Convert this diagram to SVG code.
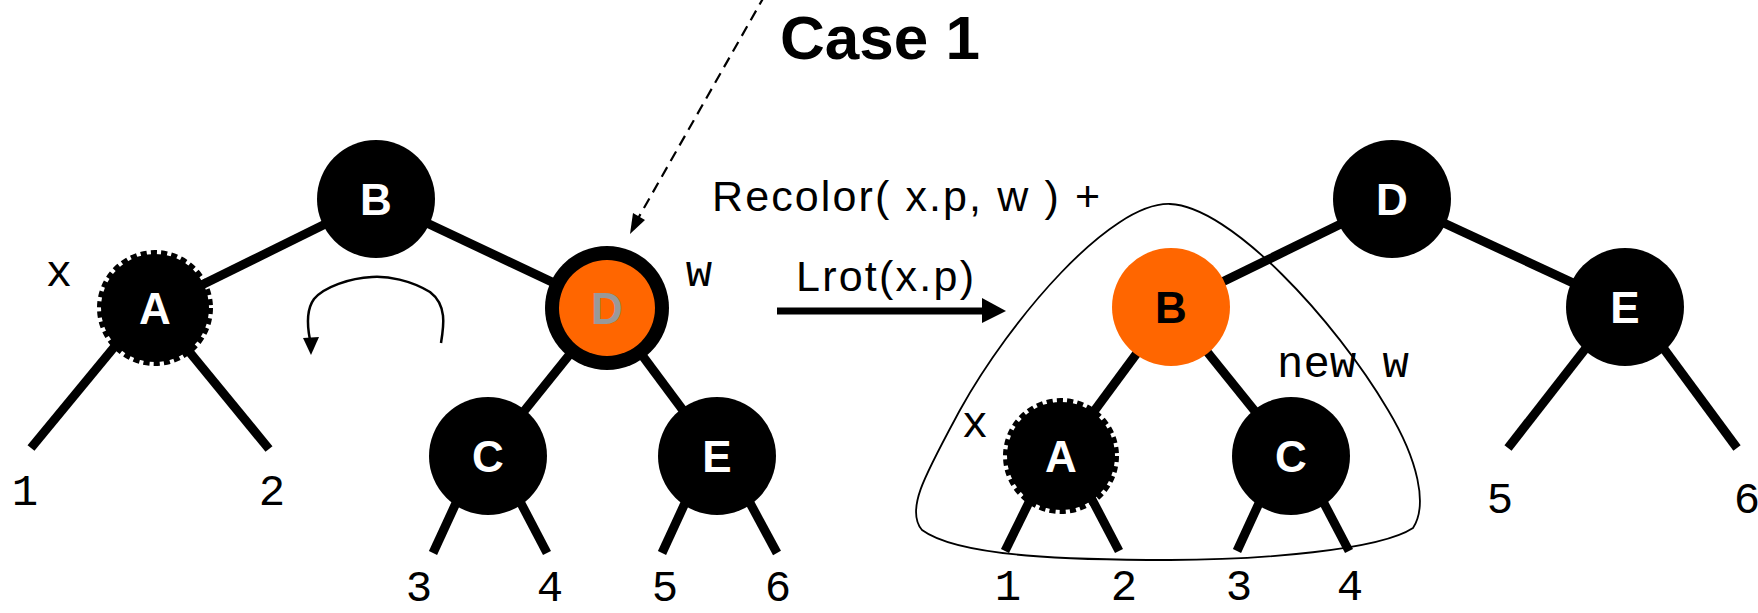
<svg xmlns="http://www.w3.org/2000/svg" width="1758" height="613" viewBox="0 0 1758 613">
<style>
.edge{stroke:#000;stroke-width:9;fill:none}
.blk{fill:#000}
.dash{fill:#000;stroke:#000;stroke-width:8;stroke-dasharray:6 4}
.org{fill:#FF6600}
.lbl{font-family:"Liberation Sans",Arial,sans-serif;font-weight:bold;font-size:44px;text-anchor:middle;fill:#fff}
.mono{font-family:"Liberation Mono","Courier New",monospace;font-size:44px;fill:#000}
.mid{text-anchor:middle}
.sans{font-family:"Liberation Sans",Arial,sans-serif;font-size:43px;fill:#000}
</style>
<rect width="1758" height="613" fill="#fff"/>
<g id="connectors">
  <!-- left tree -->
  <line class="edge" x1="376" y1="199" x2="155" y2="308"/>
  <line class="edge" x1="376" y1="199" x2="607" y2="308"/>
  <line class="edge" x1="125" y1="334" x2="31" y2="448"/>
  <line class="edge" x1="178" y1="338" x2="269" y2="449"/>
  <line class="edge" x1="607" y1="308" x2="488" y2="456"/>
  <line class="edge" x1="607" y1="308" x2="717" y2="456"/>
  <line class="edge" x1="462" y1="490" x2="433" y2="553"/>
  <line class="edge" x1="514" y1="490" x2="547" y2="553"/>
  <line class="edge" x1="691" y1="490" x2="662" y2="553"/>
  <line class="edge" x1="743" y1="490" x2="777" y2="553"/>
  <!-- right tree -->
  <line class="edge" x1="1392" y1="199" x2="1171" y2="307"/>
  <line class="edge" x1="1392" y1="199" x2="1625" y2="307"/>
  <line class="edge" x1="1171" y1="307" x2="1061" y2="456"/>
  <line class="edge" x1="1171" y1="307" x2="1291" y2="456"/>
  <line class="edge" x1="1600" y1="330" x2="1508" y2="448"/>
  <line class="edge" x1="1650" y1="330" x2="1737" y2="448"/>
  <line class="edge" x1="1036" y1="488" x2="1005" y2="551"/>
  <line class="edge" x1="1086" y1="488" x2="1119" y2="551"/>
  <line class="edge" x1="1266" y1="488" x2="1237" y2="551"/>
  <line class="edge" x1="1316" y1="488" x2="1349" y2="551"/>
  <!-- rotation arrow -->
  <path d="M441,343 C444,325 447,305 430,292 C410,280 388,276 372,277 C350,278 324,287 314,299 C306,310 307,325 310,340" fill="none" stroke="#000" stroke-width="2.5"/>
  <polygon points="311,355 303,338 319,337" fill="#000"/>
  <!-- dashed pointer -->
  <line x1="765" y1="-5" x2="636" y2="222" stroke="#000" stroke-width="2.2" stroke-dasharray="11 7"/>
  <polygon points="630,234 645,220 633,213" fill="#000"/>
  <!-- transform arrow -->
  <line x1="777" y1="311" x2="986" y2="311" stroke="#000" stroke-width="7"/>
  <polygon points="982,298 1006,311 982,323" fill="#000"/>
  <!-- subtree outline -->
  <path d="M1170,204 C1110,202 1010,320 960,410 C925,475 905,510 922,530 C960,558 1080,560 1170,560 C1260,560 1380,550 1413,528 C1428,505 1418,460 1388,410 C1335,320 1230,206 1170,204 Z" fill="none" stroke="#000" stroke-width="1.8"/>
</g>
<g id="nodeL_B"><circle class="blk" cx="376" cy="199" r="59"/><text class="lbl" x="376" y="215">B</text></g>
<g id="nodeL_A"><circle class="dash" cx="155" cy="308" r="54"/><text class="lbl" x="155" y="324">A</text></g>
<g id="nodeL_D"><circle class="blk" cx="607" cy="308" r="62"/><circle class="org" cx="607" cy="308" r="48"/><text class="lbl" x="607" y="324" style="fill:#999999">D</text></g>
<g id="nodeL_C"><circle class="blk" cx="488" cy="456" r="59"/><text class="lbl" x="488" y="472">C</text></g>
<g id="nodeL_E"><circle class="blk" cx="717" cy="456" r="59"/><text class="lbl" x="717" y="472">E</text></g>
<g id="nodeR_D"><circle class="blk" cx="1392" cy="199" r="59"/><text class="lbl" x="1392" y="215">D</text></g>
<g id="nodeR_B"><circle class="org" cx="1171" cy="307" r="59"/><text class="lbl" x="1171" y="323" style="fill:#000">B</text></g>
<g id="nodeR_E"><circle class="blk" cx="1625" cy="307" r="59"/><text class="lbl" x="1625" y="323">E</text></g>
<g id="nodeR_A"><circle class="dash" cx="1061" cy="456" r="54"/><text class="lbl" x="1061" y="472">A</text></g>
<g id="nodeR_C"><circle class="blk" cx="1291" cy="456" r="59"/><text class="lbl" x="1291" y="472">C</text></g>
<g id="labels">
  <text class="mono mid" x="25" y="505">1</text>
  <text class="mono mid" x="272" y="505">2</text>
  <text class="mono mid" x="419" y="601">3</text>
  <text class="mono mid" x="550" y="601">4</text>
  <text class="mono mid" x="665" y="601">5</text>
  <text class="mono mid" x="778" y="601">6</text>
  <text class="mono mid" x="59" y="286">x</text>
  <text class="mono mid" x="699" y="286">w</text>
  <text class="mono mid" x="975" y="437">x</text>
  <text class="mono" x="1277" y="377">new w</text>
  <text class="mono mid" x="1008" y="600">1</text>
  <text class="mono mid" x="1124" y="600">2</text>
  <text class="mono mid" x="1239" y="600">3</text>
  <text class="mono mid" x="1350" y="600">4</text>
  <text class="mono mid" x="1500" y="513">5</text>
  <text class="mono mid" x="1747" y="513">6</text>
  <text x="780" y="59" style="font-family:'Liberation Sans',Arial,sans-serif;font-weight:bold;font-size:62px">Case 1</text>
  <text class="sans" x="712" y="211" textLength="388" lengthAdjust="spacing">Recolor( x.p, w ) +</text>
  <text class="sans" x="796" y="291" textLength="178" lengthAdjust="spacing">Lrot(x.p)</text>
</g>
</svg>
